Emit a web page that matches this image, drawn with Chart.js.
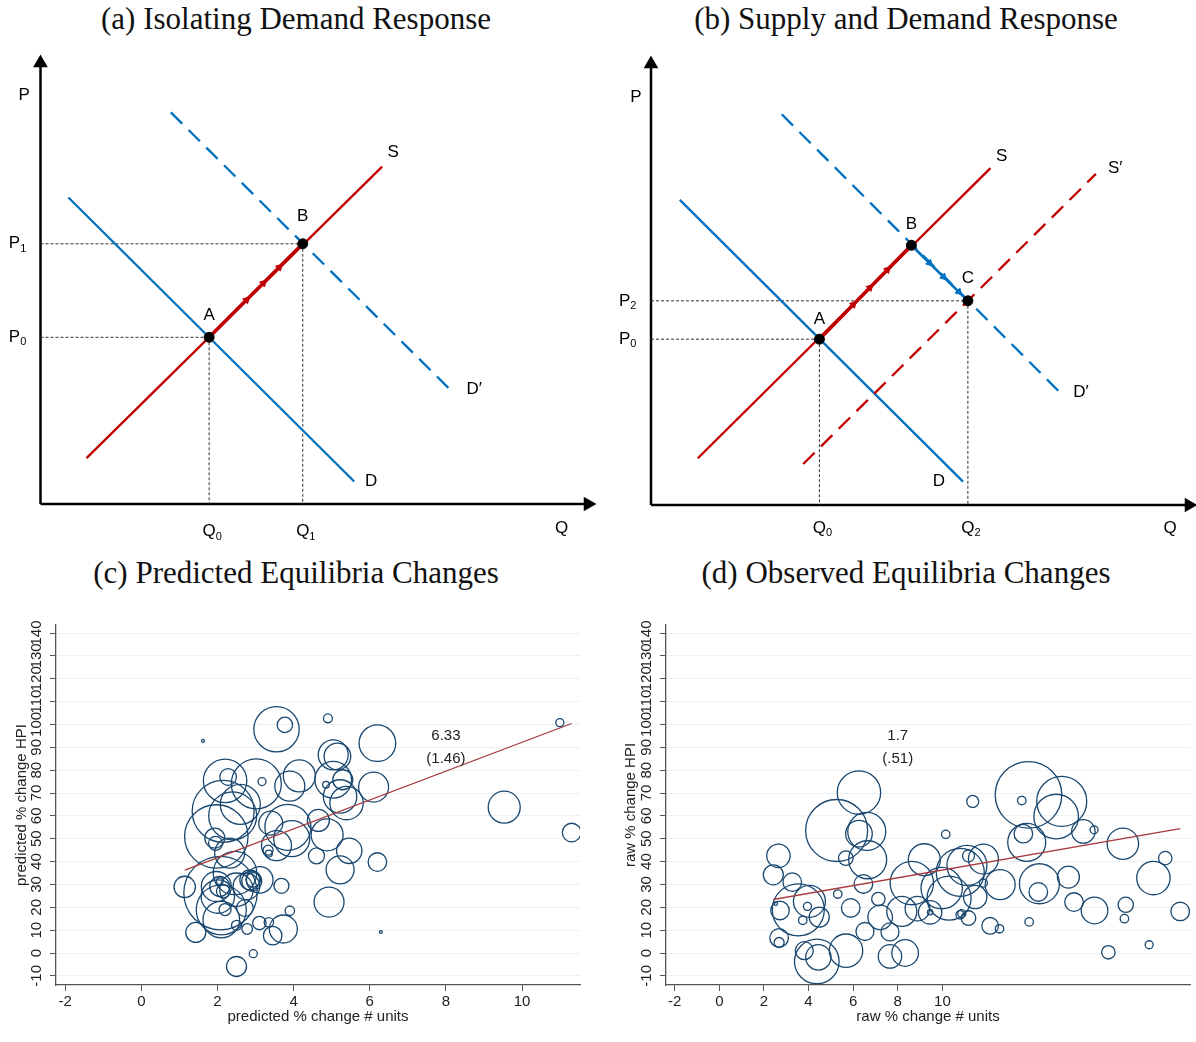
<!DOCTYPE html>
<html>
<head>
<meta charset="utf-8">
<script src="https://cdn.jsdelivr.net/npm/chart.js@4.4.0/dist/chart.umd.min.js"></script>
<style>
  body { margin: 0; background: #fff; width: 1196px; height: 1042px; position: relative; overflow: hidden; }
  .title { position: absolute; width: 598px; text-align: center; white-space: nowrap;
           font-family: "Liberation Serif", "DejaVu Serif", serif; font-size: 31px; line-height: 31px; color: #111; }
  canvas { position: absolute; }
</style>
</head>
<body>
<div class="title" style="left:-3px;top:3px">(a) Isolating Demand Response</div>
<div class="title" style="left:607px;top:3px">(b) Supply and Demand Response</div>
<div class="title" style="left:-3px;top:557px">(c) Predicted Equilibria Changes</div>
<div class="title" style="left:607px;top:557px">(d) Observed Equilibria Changes</div>

<canvas id="chartA" width="598" height="520" style="left:0;top:40px"></canvas>
<canvas id="chartB" width="598" height="520" style="left:598px;top:40px"></canvas>
<canvas id="chartC" width="598" height="442" style="left:0;top:600px"></canvas>
<canvas id="chartD" width="598" height="442" style="left:598px;top:600px"></canvas>

<script>
// ===== DATA =====
// (a) supply / demand sketch, Q and P on a 0..100 scale
const demandA = [[5.1, 69.5], [57.3, 5.1]];
const supplyA = [[8.4, 10.4], [62.4, 76.5]];
const demandNewA = [[23.8, 88.8], [75.5, 25.1]];
const eqA0 = [30.8, 37.8];
const eqA1 = [47.9, 59.0];

// (b) supply and demand both shift
const demandB = [[5.35, 69.2], [58.0, 5.3]];
const supplyB = [[8.7, 10.6], [63.1, 76.4]];
const supplyNewB = [[28.3, 9.3], [82.7, 75.1]];
const demandNewB = [[24.3, 88.6], [76.2, 25.3]];
const eqB0 = [31.3, 37.6];
const eqB1 = [48.4, 58.9];
const eqB2 = [58.9, 46.3];

// (c) predicted changes: % change # units, % change HPI, weight
const predUnits = [3.55, 3.77, 1.62, 4.9, 2.2, 2.28, 3.02, 3.17, 2.15, 2.6, 2.4, 1.97, 1.93, 1.95, 3.4, 3.85,
  3.55, 3.33, 3.35, 2.32, 2.46, 2.85, 2.94, 1.97, 2.06, 2.15, 2.06, 2.01, 2.5, 2.76, 3.11, 2.9, 2.08, 2.1,
  2.1, 2.2, 2.72, 3.68, 1.43, 1.14, 2.5, 2.78, 3.1, 3.35, 3.45, 3.73, 3.9, 2.94, 2.5, 4.65, 4.6, 4.15, 3.9,
  6.2, 5.15, 5.04, 5.04, 5.29, 4.85, 5.22, 5.39, 6.1, 4.88, 5.46, 5.22, 6.2, 4.93, 6.29, 9.53, 11.3, 10.99, 3.95];
const predHPI = [97.9, 99.8, 92.8, 102.7, 75.3, 77, 74, 75, 62, 65, 60, 51, 50.3, 48, 56.8, 55,
  47, 45, 43.5, 43.7, 35, 32, 32, 29.1, 29.1, 27, 31.4, 24.7, 27.7, 29.1, 32, 31.5, 26.2, 14.6,
  18.9, 19, 19.7, 29.4, 9, 28.9, 12.1, 10.5, 13.1, 13.4, 7.6, 10.5, 18.5, -0.3, -5.9, 58, 42.5, 77.5, 73,
  91.8, 86, 86.7, 75.8, 75.8, 73.6, 68.5, 65.6, 72.6, 51.7, 44.7, 36.4, 39.8, 22.3, 9.2, 63.8, 52.7, 100.8, 50];
const predPop = [515, 59, 2, 20, 471, 69, 625, 16, 961, 400, 576, 1005, 100, 49, 144, 529,
  225, 25, 12, 225, 471, 100, 53, 225, 100, 45, 11, 279, 279, 177, 177, 100, 1347, 335,
  625, 36, 69, 56, 100, 114, 25, 28, 45, 22, 86, 196, 22, 16, 100, 121, 64, 256, 225,
  335, 177, 225, 335, 100, 11, 279, 279, 225, 256, 161, 196, 86, 225, 2, 256, 86, 16, 324];
const predFit = [[1.14, 36.3], [11.3, 100.4]];
const predNotes = [['6.33', 8, 95], ['(1.46)', 8, 85]];

// (d) observed changes
const rawUnits = [6.26, 5.26, 6.61, 6.26, 5.67, 6.65, 2.65, 2.42, 3.27, 3.54, 4.04, 2.72, 2.53, 3.95, 4.48,
  3.74, 2.68, 2.68, 5.31, 6.46, 5.89, 3.81, 4.37, 4.44, 5.68, 6.53, 7.13, 7.21, 7.65, 7.65, 8.33, 8.18,
  8.63, 9.19, 8.88, 9.45, 9.45, 9.97, 10.15, 10.8, 10.87, 10.3, 13.86, 13.56, 15.35, 15.1, 16.32, 16.8,
  13.78, 13.63, 11.36, 18.09, 19.46, 19.99, 20.66, 14.35, 14.3, 15.65, 15.9, 16.82, 18.22, 18.16, 17.44,
  19.27, 13.89, 12.59, 11.84, 11.17, 11.1, 11.84, 11.47, 12.14, 12.56, 11.17, 10.8];
const rawHPI = [70.2, 53.6, 53.2, 52.2, 41.5, 40.8, 42.5, 34.2, 31, 18.9, 22.6, 18.6, 21.6, 20.4, 15.7,
  14.3, 6.6, 4.6, 25.8, 30.2, 19.7, 1, -3.7, -1.9, 1, 9.4, 23.6, 15.6, 9.2, -1.5, 0, 18.2,
  30.6, 40.8, 19.4, 17.8, 17.8, 28.4, 51.9, 35.3, 17.2, 24, 69.2, 66.7, 66.3, 59.7, 53.2, 53.9,
  48.4, 52.2, 66.3, 47.8, 32.8, 41.5, 18.2, 30.3, 26.7, 33.2, 22.3, 18.6, 21.1, 15, 0.3,
  3.6, 13.6, 29.9, 41.1, 42.5, 38.3, 30.6, 24.5, 11.9, 10.6, 15.3, 16.7];
const rawPop = [471, 961, 361, 177, 53, 361, 137, 100, 86, 676, 256, 86, 3, 16, 100,
  18, 86, 25, 18, 86, 86, 81, 497, 161, 279, 81, 45, 151, 81, 137, 177, 225,
  471, 256, 151, 137, 7, 428, 18, 576, 16, 484, 1109, 18, 625, 497, 137, 16,
  361, 86, 36, 246, 279, 45, 86, 400, 86, 121, 86, 177, 59, 18, 45,
  16, 18, 225, 225, 36, 400, 16, 137, 69, 18, 53, 18];
const rawFit = [[2.42, 23.4], [20.66, 54.4]];
const rawNotes = [['1.7', 8, 95], ['(.51)', 8, 85]];

const unitTicks = [-2, 0, 2, 4, 6, 8, 10];
const hpiTicks = [-10, 0, 10, 20, 30, 40, 50, 60, 70, 80, 90, 100, 110, 120, 130, 140];

// ===== HELPERS =====
const SANS = '"Liberation Sans", Arial, sans-serif';
Chart.defaults.font.family = SANS;
Chart.defaults.color = '#222';

const blue = '#0070c0';
const red = '#c00000';
const navy = '#1a476f';
const fitRed = '#a83a3e';

const xy = pts => pts.map(([x, y]) => ({ x, y }));
const along = (p, q, t) => [p[0] + (q[0] - p[0]) * t, p[1] + (q[1] - p[1]) * t];

function line(pts, color, width, dash) {
  return { data: xy(pts), showLine: true, borderColor: color, borderWidth: width,
           borderDash: dash || [], pointRadius: 0, clip: false };
}
function marks(pts, color, radius, style, rot) {
  return { data: xy(pts), showLine: false, pointStyle: style, pointRadius: radius, pointRotation: rot || 0,
           pointBackgroundColor: color, pointBorderColor: color, pointBorderWidth: 1, clip: false };
}
function axis(end, rot) {
  return { data: xy([[0, 0], end]), showLine: true, borderColor: '#000', borderWidth: 2.5,
           pointRadius: [0, 6], pointStyle: 'triangle', pointRotation: rot,
           pointBackgroundColor: '#000', pointBorderColor: '#000', clip: false };
}
const dashed = [16, 9];
const dotted = [3, 2];

// letters with subscripts on the sketches
const sdText = {
  id: 'sdText',
  afterDraw(chart, args, opts) {
    const { ctx, scales: { x, y } } = chart;
    ctx.save();
    ctx.fillStyle = '#000';
    ctx.textBaseline = 'middle';
    ctx.textAlign = 'left';
    opts.items.forEach(([main, sub, q, p]) => {
      const px = x.getPixelForValue(q), py = y.getPixelForValue(p);
      ctx.font = '17px ' + SANS;
      const w = ctx.measureText(main).width;
      ctx.fillText(main, px - w / 2, py);
      if (sub) {
        ctx.font = '11px ' + SANS;
        ctx.fillText(sub, px + w / 2, py + 5);
      }
    });
    ctx.restore();
  }
};

function sdChart(id, datasets, texts, pad) {
  new Chart(document.getElementById(id), {
    type: 'scatter',
    data: { datasets },
    options: {
      responsive: false, animation: false, events: [],
      layout: { padding: pad, autoPadding: false },
      scales: { x: { display: false, min: 0, max: 100 }, y: { display: false, min: 0, max: 100 } },
      plugins: { legend: { display: false }, tooltip: { enabled: false }, sdText: { items: texts } }
    },
    plugins: [sdText]
  });
}

// ===== (a) =====
sdChart('chartA', [
  marks([eqA0, eqA1], '#000', 5, 'circle'),
  marks([0.4, 0.58, 0.75].map(t => along(eqA0, eqA1, t)), red, 4, 'triangle', 45),
  line([eqA0, eqA1], red, 3.6),
  line(supplyA, red, 2.3),
  line(demandA, blue, 2.3),
  line(demandNewA, blue, 2.3, dashed),
  line([[0, eqA1[1]], eqA1], '#333', 1, dotted),
  line([[0, eqA0[1]], eqA0], '#333', 1, dotted),
  line([eqA0, [eqA0[0], 0]], '#333', 1, dotted),
  line([eqA1, [eqA1[0], 0]], '#333', 1, dotted),
  axis([100, 0], 90),
  axis([0, 100], 0)
], [
  ['P', '', -3.0, 92.7],
  ['P', '1', -4.75, eqA1[1]],
  ['P', '0', -4.75, eqA0[1]],
  ['Q', '0', eqA0[0], -6.3],
  ['Q', '1', eqA1[0], -6.3],
  ['Q', '', 95.2, -5.4],
  ['A', '', eqA0[0], eqA0[1] + 5],
  ['B', '', eqA1[0], eqA1[1] + 6.2],
  ['S', '', 64.4, 79.7],
  ['D', '', 60.4, 5.2],
  ['D\u2032', '', 79.2, 25.9]
], { left: 40.5, right: 10, top: 23, bottom: 56 });

// ===== (b) =====
sdChart('chartB', [
  marks([eqB0, eqB1, eqB2], '#000', 5, 'circle'),
  marks([0.37, 0.55, 0.74].map(t => along(eqB0, eqB1, t)), red, 4, 'triangle', 45),
  marks([0.32, 0.57, 0.84].map(t => along(eqB1, eqB2, t)), blue, 4, 'triangle', 135),
  line([eqB0, eqB1], red, 3.6),
  line([eqB1, eqB2], blue, 2.6),
  line(supplyB, red, 2.3),
  line(supplyNewB, red, 2.3, dashed),
  line(demandB, blue, 2.3),
  line(demandNewB, blue, 2.3, dashed),
  line([[0, eqB2[1]], eqB2], '#333', 1, dotted),
  line([[0, eqB0[1]], eqB0], '#333', 1, dotted),
  line([eqB0, [eqB0[0], 0]], '#333', 1, dotted),
  line([eqB2, [eqB2[0], 0]], '#333', 1, dotted),
  axis([100, 0], 90),
  axis([0, 100], 0)
], [
  ['P', '', -2.8, 92.5],
  ['P', '2', -4.9, eqB2[1]],
  ['P', '0', -4.9, eqB0[1]],
  ['Q', '0', eqB0[0], -5.2],
  ['Q', '2', eqB2[0], -5.2],
  ['Q', '', 96.5, -5.2],
  ['A', '', eqB0[0], eqB0[1] + 4.5],
  ['B', '', eqB1[0], eqB1[1] + 4.8],
  ['C', '', eqB2[0], eqB2[1] + 5],
  ['S', '', 65.2, 79.1],
  ['S\u2032', '', 86.3, 76.4],
  ['D\u2032', '', 79.9, 25.6],
  ['D', '', 53.5, 5.4]
], { left: 53, right: 7, top: 24, bottom: 55 });

// ===== (c) and (d): bubble plots with fitted line =====
const notes = {
  id: 'notes',
  afterDatasetsDraw(chart, args, opts) {
    const { ctx, scales: { x, y } } = chart;
    ctx.save();
    ctx.font = '15px ' + SANS;
    ctx.fillStyle = '#222';
    ctx.textAlign = 'center';
    ctx.textBaseline = 'middle';
    opts.items.forEach(([t, nx, ny]) => ctx.fillText(t, x.getPixelForValue(nx), y.getPixelForValue(ny)));
    ctx.restore();
  }
};

function bubbleChart(id, units, hpi, pop, fit, noteList, xRange, xTitle, yTitle, yWidth, yTitlePad, padRight) {
  new Chart(document.getElementById(id), {
    type: 'bubble',
    data: {
      datasets: [
        { type: 'scatter', data: xy(fit), showLine: true, borderColor: fitRed, borderWidth: 1.3, pointRadius: 0 },
        { data: units.map((u, i) => ({ x: u, y: hpi[i], r: Math.sqrt(pop[i]) })),
          backgroundColor: 'rgba(0,0,0,0)', borderColor: navy, borderWidth: 1.3 }
      ]
    },
    options: {
      responsive: false, animation: false, events: [],
      layout: { padding: { top: 25, right: padRight, left: 0, bottom: 0 }, autoPadding: false },
      scales: {
        x: {
          min: xRange[0], max: xRange[1],
          afterBuildTicks: s => { s.ticks = unitTicks.map(v => ({ value: v })); },
          afterFit: s => { s.height = 57; },
          ticks: { autoSkip: false, maxRotation: 0, padding: 2, font: { size: 15 }, color: '#222' },
          grid: { drawOnChartArea: false, tickColor: '#555', tickLength: 6 },
          border: { color: '#555', width: 1.3 },
          title: { display: true, text: xTitle, font: { size: 15 }, color: '#222', padding: { top: 0, bottom: 16 } }
        },
        y: {
          min: -14, max: 143.5,
          afterBuildTicks: s => { s.ticks = hpiTicks.map(v => ({ value: v })); },
          afterFit: s => { s.width = yWidth; },
          ticks: { autoSkip: false, minRotation: 90, maxRotation: 90, crossAlign: 'center', padding: 1,
                   font: { size: 15 }, color: '#222' },
          grid: { color: '#eaf2f3', lineWidth: 1, tickColor: '#555', tickLength: 6 },
          border: { color: '#555', width: 1.3 },
          title: { display: true, text: yTitle, font: { size: 15 }, color: '#222', padding: { top: yTitlePad, bottom: 0 } }
        }
      },
      plugins: { legend: { display: false }, tooltip: { enabled: false }, notes: { items: noteList } }
    },
    plugins: [notes]
  });
}

bubbleChart('chartC', predUnits, predHPI, predPop, predFit, predNotes, [-2.24, 11.52],
  'predicted % change # units', 'predicted % change HPI', 56, 13, 18);
bubbleChart('chartD', rawUnits, rawHPI, rawPop, rawFit, rawNotes, [-2.39, 21.1],
  'raw % change # units', 'raw % change HPI', 68, 23.7, 6);
</script>
</body>
</html>
